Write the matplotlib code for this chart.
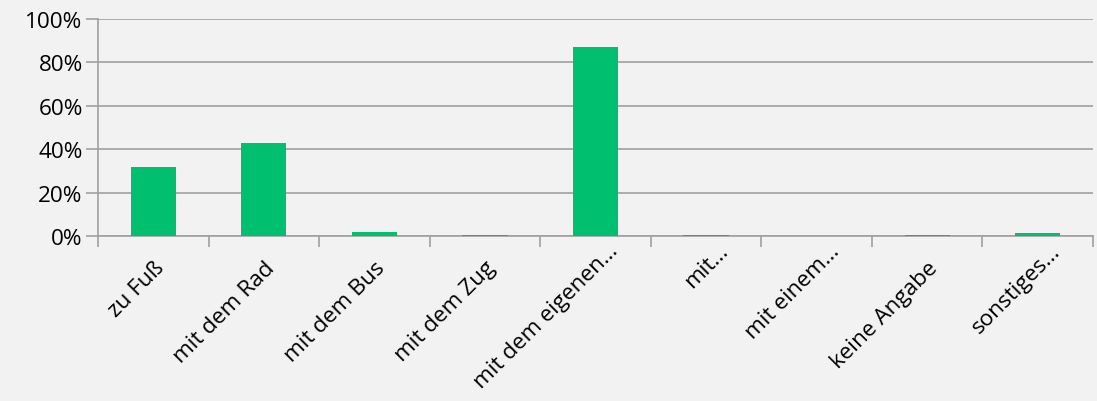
import numpy as np
import matplotlib.pyplot as plt
from matplotlib.ticker import FuncFormatter
from matplotlib.transforms import ScaledTranslation

categories = ['zu Fuß', 'mit dem Rad', 'mit dem Bus', 'mit dem Zug', 'mit dem eigenen…',
              'mit…', 'mit einem…', 'keine Angabe', 'sonstiges…']
values = [0.32, 0.43, 0.018, 0.003, 0.87, 0.003, 0.0, 0.003, 0.016]

plt.rcParams['font.family'] = ['Open Sans', 'DejaVu Sans']

fig = plt.figure(figsize=(10.97, 4.02), dpi=100, facecolor='#f2f2f2')
ax = fig.add_axes([98/1097, 1-237/402, 995/1097, 217/402])
ax.set_facecolor('#f2f2f2')

x = np.arange(len(categories))
ax.bar(x, values, width=0.41, color='#00c070', zorder=3)

## axes config
ax.set_xlim(-0.5, len(categories)-0.5)
ax.set_ylim(0, 1)
ax.set_yticks(np.arange(0, 1.01, 0.2))
ax.yaxis.set_major_formatter(FuncFormatter(lambda v, p: '%d%%' % round(v*100)))
ax.grid(True, axis='y', color='#a0a0a0', linewidth=1.2, zorder=0)

for s in ['top', 'right']:
    ax.spines[s].set_visible(False)
ax.spines['left'].set_color('#a0a0a0')
ax.spines['bottom'].set_color('#a0a0a0')
ax.spines['left'].set_linewidth(1.2)
ax.spines['bottom'].set_linewidth(1.2)

# tick marks between categories, labels at the centres
ax.set_xticks(np.arange(-0.5, len(categories)+0.5, 1))
ax.set_xticklabels([])
ax.set_xticks(x, minor=True)
ax.set_xticklabels(categories, minor=True, rotation=45, ha='right', va='top',
                   rotation_mode='anchor', fontsize=16.2)
ax.tick_params(axis='x', which='major', length=8, color='#a0a0a0', width=1.2)
ax.tick_params(axis='x', which='minor', length=0, pad=0)
ax.tick_params(axis='y', length=9, color='#a0a0a0', width=1.2, labelsize=16.2, pad=2)

# shortened labels sit a bit higher, like in the original
for lab in ax.get_xticklabels(minor=True):
    if lab.get_text().endswith('…'):
        off = ScaledTranslation(0.12, -0.04, fig.dpi_scale_trans)
    else:
        off = ScaledTranslation(0.0, -0.21, fig.dpi_scale_trans)
    lab.set_transform(lab.get_transform() + off)

fig.savefig('out.png', facecolor='#f2f2f2')
